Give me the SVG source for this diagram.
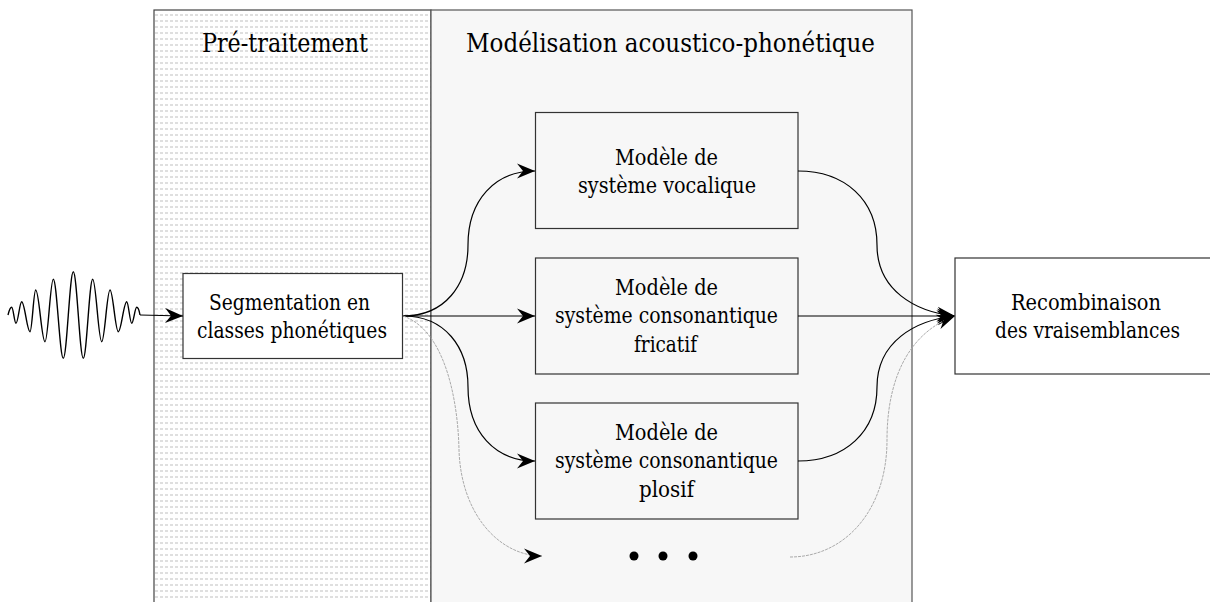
<svg xmlns="http://www.w3.org/2000/svg" width="1210" height="602" viewBox="0 0 1210 602">
<style>
text{font-family:'DejaVu Serif',serif;fill:#000;text-anchor:middle}
.h{font-size:26.5px}
.b{font-size:22.5px}
.box{stroke:#333;stroke-width:1.2}
.c{fill:none;stroke:#000;stroke-width:1.2}
.d{fill:none;stroke:#aaa;stroke-width:1;stroke-dasharray:3 1}
</style>
<defs>
<pattern id="hatch" width="5" height="6" patternUnits="userSpaceOnUse">
<rect width="5" height="6" fill="#fff"/>
<line x1="0" y1="3" x2="3" y2="3" stroke="#c0c0c0" stroke-width="1"/>
</pattern>
<marker id="arr" viewBox="-18 -8 18 16" refX="0" refY="0" markerWidth="18" markerHeight="16" markerUnits="userSpaceOnUse" orient="auto">
<path d="M0,0 L-18,-7.5 L-12,0 L-18,7.5 Z" fill="#000"/>
</marker>
</defs>
<g id="panel-pretraitement">
<rect x="154" y="10" width="277" height="600" fill="url(#hatch)" stroke="#444" stroke-width="1.2"/>
<text class="h" x="285" y="52" textLength="166" lengthAdjust="spacingAndGlyphs">Pré-traitement</text>
</g>
<g id="panel-modelisation">
<rect x="431" y="10" width="481" height="600" fill="#f7f7f7" stroke="#555" stroke-width="1.2"/>
<text class="h" x="670.5" y="52" textLength="409" lengthAdjust="spacingAndGlyphs">Modélisation acoustico-phonétique</text>
</g>
<g id="signal">
<path d="M8,315 C9,311 10.5,307.3 11.7,307.3 C13.3,307.3 14.4,323.3 16,323.3 C18.1,323.3 19.6,301.7 21.7,301.7 C24.7,301.7 27,331.7 30,331.7 C32.1,331.7 33.6,290 35.7,290 C39.1,290 41.6,341.7 45,341.7 C48,341.7 50.3,279.3 53.3,279.3 C56.9,279.3 59.7,358.3 63.3,358.3 C66.9,358.3 69.7,271.7 73.3,271.7 C76.9,271.7 79.7,358.3 83.3,358.3 C86.7,358.3 89.3,279.3 92.7,279.3 C96,279.3 98.4,341.7 101.7,341.7 C104.7,341.7 107,290 110,290 C113,290 115.3,331.7 118.3,331.7 C121.3,331.7 123.7,301.7 126.7,301.7 C128.5,301.7 129.9,323.3 131.7,323.3 C133.5,323.3 134.9,307.3 136.7,307.3 C138,307.3 139.3,311 140,315" fill="none" stroke="#000" stroke-width="1.4"/>
</g>
<g id="node-segmentation">
<rect class="box" x="183" y="273.5" width="219.5" height="85" fill="#fff"/>
<text class="b" x="289.5" y="310" textLength="161" lengthAdjust="spacingAndGlyphs">Segmentation en</text>
<text class="b" x="292" y="338" textLength="190" lengthAdjust="spacingAndGlyphs">classes phonétiques</text>
</g>
<g id="node-vocalique">
<rect class="box" x="535.5" y="112.5" width="262.5" height="116" fill="#f7f7f7"/>
<text class="b" x="666.5" y="165" textLength="103" lengthAdjust="spacingAndGlyphs">Modèle de</text>
<text class="b" x="667" y="193" textLength="178" lengthAdjust="spacingAndGlyphs">système vocalique</text>
</g>
<g id="node-fricatif">
<rect class="box" x="535.5" y="258" width="262.5" height="116" fill="#f7f7f7"/>
<text class="b" x="666.5" y="295" textLength="103" lengthAdjust="spacingAndGlyphs">Modèle de</text>
<text class="b" x="666.5" y="323" textLength="223" lengthAdjust="spacingAndGlyphs">système consonantique</text>
<text class="b" x="665.5" y="352" textLength="63" lengthAdjust="spacingAndGlyphs">fricatif</text>
</g>
<g id="node-plosif">
<rect class="box" x="535.5" y="403" width="262.5" height="116" fill="#f7f7f7"/>
<text class="b" x="666.5" y="440" textLength="103" lengthAdjust="spacingAndGlyphs">Modèle de</text>
<text class="b" x="666.5" y="468" textLength="223" lengthAdjust="spacingAndGlyphs">système consonantique</text>
<text class="b" x="666.5" y="497" textLength="55" lengthAdjust="spacingAndGlyphs">plosif</text>
</g>
<g id="node-recombinaison">
<rect class="box" x="955" y="258" width="264" height="116" fill="#fff"/>
<text class="b" x="1086" y="310" textLength="150" lengthAdjust="spacingAndGlyphs">Recombinaison</text>
<text class="b" x="1087.5" y="338" textLength="185" lengthAdjust="spacingAndGlyphs">des vraisemblances</text>
</g>
<g id="node-autres">
<circle cx="634" cy="556" r="4.5" fill="#000"/>
<circle cx="663" cy="556" r="4.5" fill="#000"/>
<circle cx="693" cy="556" r="4.5" fill="#000"/>
</g>
<g id="connectors">
<path class="c" d="M140,315 L183,316" marker-end="url(#arr)"/>
<path class="c" d="M403,316 L535,316" marker-end="url(#arr)"/>
<path class="c" d="M403,316 C445,316 468,285 468,245 C468,200 495,171 535,171" marker-end="url(#arr)"/>
<path class="c" d="M403,316 C445,316 468,347 468,387 C468,432 495,461 535,461" marker-end="url(#arr)"/>
<path class="d" d="M403,316 C445,330 458,400 459,450 C461,515 500,556 542,556" marker-end="url(#arr)"/>
<path class="c" d="M798,316 L955,316" marker-end="url(#arr)"/>
<path class="c" d="M798,171 C845,171 877,200 877,245 C877,290 915,312 955,316" marker-end="url(#arr)"/>
<path class="c" d="M798,461 C845,461 877,432 877,387 C877,342 915,320 955,316" marker-end="url(#arr)"/>
<path class="d" d="M790,557 C845,557 887,510 887,440 C887,370 915,330 955,316" marker-end="url(#arr)"/>
</g>
</svg>
